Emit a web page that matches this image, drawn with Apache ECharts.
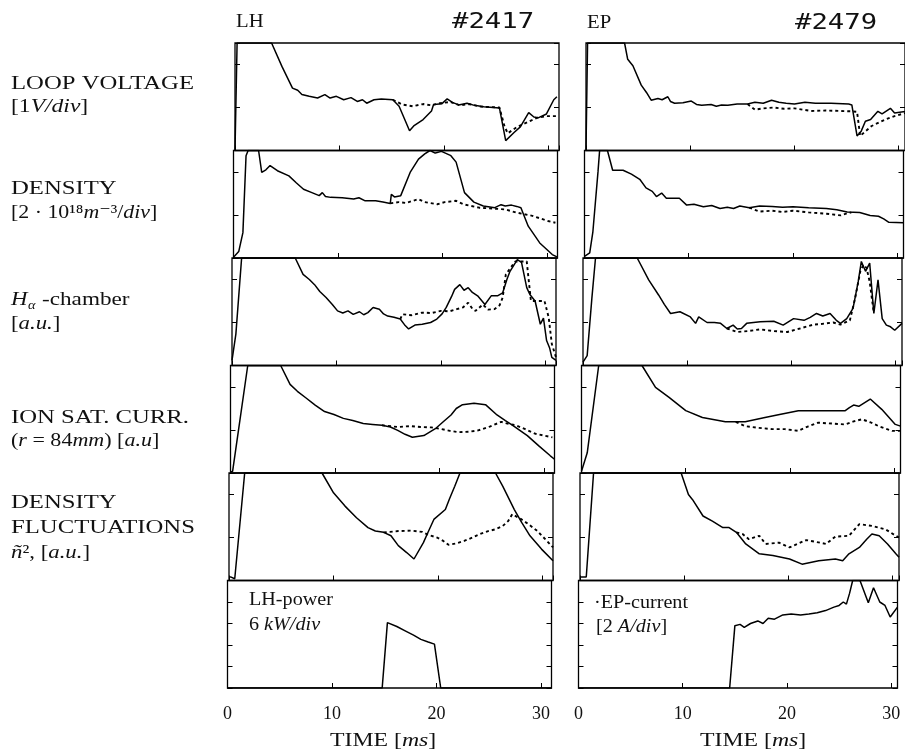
<!DOCTYPE html>
<html>
<head>
<meta charset="utf-8">
<script src="https://cdn.jsdelivr.net/npm/echarts@6/dist/echarts.min.js"></script>
<style>
  html, body { margin: 0; padding: 0; background: #fff; }
  #chart { width: 905px; height: 751px; }
</style>
</head>
<body>
<div id="chart"></div>
<script>
// time in ms, value in divisions (each panel is 2.5 div high, traces saturate at the top)

// ---- LH shot #2417 (left column) ----
var lhLoopSolid = [[0,0],[0.2,2.5],[3.5,2.5],[4.5,1.95],[5.5,1.45],[6.0,1.40],[6.4,1.30],[7.1,1.26],[7.9,1.22],[8.6,1.30],[9.1,1.22],[9.7,1.26],[10.4,1.18],[11.1,1.23],[11.7,1.14],[12.2,1.18],[12.6,1.10],[13.3,1.18],[14.0,1.20],[15.1,1.18],[15.7,1.03],[16.7,0.46],[17.1,0.57],[18.0,0.72],[18.8,0.92],[19.0,1.07],[19.8,1.09],[20.3,1.20],[20.8,1.12],[21.4,1.06],[22.2,1.10],[22.9,1.05],[23.8,1.02],[25.3,0.99],[25.9,0.23],[26.7,0.42],[27.3,0.55],[28.1,0.88],[28.6,0.78],[29.0,0.76],[29.8,0.85],[30.5,1.18],[30.8,1.25]];
var lhLoopDashed = [[15.1,1.18],[16.0,1.07],[17.0,1.03],[18.0,1.08],[18.8,1.05],[19.6,1.10],[20.6,1.13],[21.5,1.05],[22.4,1.08],[23.5,1.02],[25.3,1.00],[25.8,0.55],[26.1,0.40],[27.0,0.55],[28.0,0.66],[28.9,0.76],[29.8,0.80],[30.8,0.80]];

var lhDensSolid = [[0,0.02],[0.5,0.15],[0.9,0.59],[1.2,2.38],[1.4,2.5],[2.4,2.5],[2.7,1.99],[3.1,2.05],[3.5,2.15],[4.2,2.03],[5.3,1.91],[6.0,1.75],[6.7,1.60],[7.5,1.52],[8.2,1.45],[8.5,1.52],[8.8,1.43],[9.3,1.41],[10.4,1.40],[11.5,1.37],[12.0,1.40],[12.6,1.33],[13.6,1.33],[14.3,1.30],[15.0,1.27],[15.1,1.48],[15.4,1.42],[16.0,1.45],[16.9,1.99],[17.7,2.30],[18.3,2.42],[18.8,2.5],[19.3,2.44],[19.9,2.48],[20.8,2.38],[21.3,2.23],[22.1,1.52],[23.0,1.30],[23.9,1.21],[25.0,1.17],[25.6,1.24],[26.0,1.21],[26.6,1.23],[27.1,1.20],[27.5,1.17],[28.2,0.74],[29.3,0.35],[30.5,0.08],[31,0.02]];
var lhDensDashed = [[15.0,1.27],[15.8,1.30],[16.5,1.28],[17.7,1.37],[18.3,1.30],[19.5,1.25],[20.2,1.30],[21.3,1.33],[22.0,1.25],[23.5,1.17],[24.8,1.15],[26.0,1.13],[27.0,1.06],[28.6,0.98],[30.1,0.86],[30.8,0.82]];

var lhHaSolid = [[0,0.12],[0.37,0.73],[0.92,2.5],[6.05,2.5],[6.8,2.12],[7.4,2.0],[7.9,1.88],[8.4,1.72],[9.0,1.58],[9.6,1.42],[10.1,1.27],[10.6,1.22],[11.1,1.27],[11.6,1.19],[12.2,1.25],[12.6,1.18],[13.0,1.23],[13.5,1.35],[14.1,1.31],[14.5,1.20],[14.9,1.15],[15.5,1.12],[16.1,1.08],[16.5,0.95],[16.9,0.85],[17.5,0.94],[18.2,0.96],[19.0,1.0],[19.6,1.08],[20.1,1.20],[20.5,1.35],[21.0,1.60],[21.3,1.77],[21.8,1.88],[22.2,1.75],[22.6,1.81],[23.0,1.70],[23.5,1.62],[24.2,1.42],[24.8,1.62],[25.4,1.62],[25.9,1.69],[26.3,2.0],[26.6,2.19],[27.3,2.46],[27.7,2.40],[28.2,1.81],[28.5,1.65],[29.0,1.50],[29.5,0.96],[29.8,1.10],[30.1,0.58],[30.4,0.40],[30.6,0.19],[31,0.12]];
var lhHaDashed = [[16.1,1.08],[16.3,1.19],[17.2,1.17],[18.2,1.23],[19.1,1.22],[20.0,1.27],[20.8,1.26],[21.5,1.31],[22.1,1.35],[22.6,1.46],[23.0,1.32],[23.3,1.27],[24.0,1.42],[24.5,1.30],[25.1,1.31],[25.6,1.40],[25.9,1.58],[26.2,2.12],[27.1,2.42],[28.2,2.42],[28.6,1.5],[29.9,1.5],[30.3,1.12],[30.6,0.5],[31,0.19]];

var lhIonSolid = [[0,0.02],[0.2,0.04],[0.55,0.63],[1.65,2.5],[4.8,2.5],[5.7,2.06],[6.4,1.9],[7.2,1.75],[8.1,1.58],[9.0,1.43],[9.9,1.36],[10.8,1.27],[11.7,1.22],[12.7,1.15],[13.6,1.13],[14.5,1.11],[15.3,1.07],[16.0,0.99],[16.7,0.90],[17.4,0.83],[18.5,0.87],[19.6,1.03],[20.3,1.18],[21.1,1.35],[21.6,1.50],[22.2,1.59],[23.3,1.62],[24.4,1.59],[25.5,1.35],[26.3,1.22],[27.0,1.11],[28.4,0.87],[29.5,0.63],[30.6,0.4],[31,0.32]];
var lhIonDashed = [[14.5,1.11],[16.0,1.07],[17.2,1.09],[18.2,1.07],[19.2,1.06],[20.0,1.03],[21.0,0.98],[21.8,0.95],[22.8,0.96],[23.7,0.99],[24.8,1.08],[25.9,1.19],[26.5,1.15],[27.3,1.11],[28.2,1.02],[29.2,0.91],[30.0,0.87],[30.8,0.83]];

var lhFlucSolid = [[0,0.08],[0.2,0.08],[0.55,0.04],[1.5,2.5],[8.9,2.5],[10.0,2.04],[11.1,1.73],[12.2,1.46],[13.3,1.23],[14.0,1.15],[14.8,1.12],[15.5,1.04],[16.2,0.81],[17.0,0.65],[17.7,0.5],[18.6,0.88],[19.0,1.10],[19.6,1.42],[20.7,1.65],[21.1,1.90],[21.6,2.19],[22.1,2.5],[25.5,2.5],[26.2,2.19],[27.3,1.65],[28.0,1.35],[28.8,1.04],[29.9,0.73],[31,0.46]];
var lhFlucDashed = [[14.8,1.12],[15.4,1.13],[16.2,1.15],[17.4,1.16],[18.5,1.13],[19.2,1.05],[19.9,1.0],[20.5,0.92],[21.0,0.83],[21.7,0.86],[22.5,0.92],[23.3,1.0],[24.0,1.08],[24.8,1.15],[25.5,1.19],[26.2,1.27],[26.7,1.38],[27.1,1.54],[28.0,1.42],[28.7,1.30],[29.5,1.15],[30.3,0.95],[31,0.77]];

var lhPower = [[0,0],[14.8,0],[15.3,1.52],[16.2,1.43],[17.0,1.33],[17.8,1.23],[18.5,1.13],[19.2,1.07],[19.8,1.02],[20.4,0],[31,0]];

// ---- EP shot #2479 (right column) ----
var epLoopSolid = [[0,0],[0.15,2.5],[3.7,2.5],[4.0,2.12],[4.5,1.97],[5.3,1.52],[5.8,1.35],[6.25,1.17],[6.9,1.21],[7.3,1.18],[7.85,1.25],[8.1,1.14],[8.5,1.10],[9.3,1.11],[10.1,1.15],[10.6,1.07],[11.1,1.05],[12.0,1.07],[12.5,1.03],[13.0,1.06],[13.6,1.05],[14.5,1.08],[15.5,1.08],[16.2,1.12],[17.0,1.10],[17.8,1.17],[18.5,1.12],[19.2,1.10],[20.0,1.08],[21.0,1.12],[22.0,1.10],[23.5,1.10],[25.2,1.08],[25.5,1.06],[26.0,0.34],[26.4,0.45],[26.8,0.68],[27.3,0.72],[28.0,0.91],[28.4,0.85],[29.2,0.98],[29.6,0.87],[30.6,0.91]];
var epLoopDashed = [[15.5,1.08],[16.2,0.95],[17.0,0.98],[18.0,1.0],[19.0,0.97],[20.0,0.98],[21.6,0.92],[23.0,0.93],[24.3,0.92],[25.5,0.91],[26.0,0.90],[26.3,0.34],[27.4,0.57],[28.7,0.72],[29.6,0.80],[30.6,0.87]];

var epDensSolid = [[0,0.04],[0.5,0.12],[0.8,0.6],[1.3,2.02],[1.45,2.5],[2.2,2.5],[2.7,2.04],[3.7,2.04],[4.5,1.95],[5.3,1.83],[5.9,1.63],[6.5,1.55],[6.9,1.43],[7.4,1.51],[7.85,1.39],[9.1,1.39],[9.8,1.23],[10.5,1.25],[11.4,1.19],[12.2,1.22],[13.0,1.15],[13.7,1.18],[14.3,1.15],[14.9,1.21],[15.8,1.17],[16.8,1.21],[18.0,1.20],[19.0,1.18],[20.0,1.19],[21.5,1.17],[23.2,1.15],[24.2,1.12],[25.2,1.07],[26.4,1.06],[27.4,0.99],[28.2,0.97],[28.7,0.91],[29.2,0.83],[30.6,0.82]];
var epDensDashed = [[15.8,1.17],[16.8,1.08],[18.0,1.10],[19.0,1.07],[20.0,1.10],[21.5,1.06],[23.2,1.03],[24.6,0.99],[25.2,1.04],[25.6,1.06]];

var epHaSolid = [[0,0.08],[0.4,0.23],[0.85,1.56],[1.2,2.5],[5.2,2.5],[6.3,1.99],[7.25,1.64],[7.8,1.42],[8.4,1.21],[9.3,1.25],[10.3,1.13],[10.8,0.98],[11.1,1.13],[11.9,1.0],[12.6,1.0],[13.2,0.98],[13.8,0.86],[14.4,0.94],[14.8,0.85],[15.2,0.86],[15.7,0.98],[17.0,1.02],[18.3,1.03],[19.2,0.94],[20.2,1.09],[21.2,1.05],[21.8,1.12],[22.4,1.21],[23.0,1.15],[23.7,1.21],[24.3,1.05],[24.7,0.98],[25.3,1.09],[25.9,1.33],[26.4,1.95],[26.7,2.42],[27.1,2.19],[27.5,2.38],[27.9,1.21],[28.3,1.99],[28.7,1.09],[29.1,0.94],[29.5,0.90],[29.9,0.82],[30.6,0.98]];
var epHaDashed = [[13.8,0.86],[14.8,0.78],[15.8,0.80],[17.0,0.84],[18.3,0.80],[19.6,0.78],[20.8,0.86],[22.1,0.95],[23.0,0.97],[24.0,1.0],[24.7,0.95],[25.6,1.05],[26.1,1.56],[26.6,2.19],[26.9,2.34],[27.2,2.27],[27.5,1.95],[27.9,1.21]];

var epIonSolid = [[0,0.04],[0.55,0.47],[1.65,2.5],[5.8,2.5],[7.1,1.99],[8.4,1.76],[10.0,1.45],[11.6,1.29],[13.8,1.19],[15.7,1.19],[17.6,1.29],[19.0,1.36],[20.8,1.45],[23.0,1.45],[25.3,1.45],[25.7,1.52],[26.1,1.58],[26.6,1.55],[27.7,1.72],[28.8,1.48],[30.1,1.13],[30.6,1.09]];
var epIonDashed = [[14.8,1.19],[15.7,1.09],[17.0,1.05],[18.3,1.02],[19.5,1.02],[20.8,0.98],[21.7,1.08],[22.7,1.17],[24.0,1.15],[25.3,1.13],[26.1,1.20],[26.9,1.25],[27.7,1.18],[28.5,1.09],[29.8,0.98],[30.6,0.98]];

var epFlucSolid = [[0,0.08],[0.6,0.08],[1.3,2.5],[9.7,2.5],[10.4,2.0],[10.8,1.88],[11.8,1.5],[12.7,1.38],[13.7,1.23],[14.3,1.23],[15.0,1.12],[15.9,0.85],[17.2,0.62],[18.5,0.58],[20.1,0.5],[21.3,0.38],[22.9,0.46],[24.5,0.50],[25.2,0.46],[25.8,0.62],[26.8,0.77],[27.5,0.96],[28.0,1.08],[28.7,1.04],[29.5,0.85],[30.3,0.62],[30.6,0.54]];
var epFlucDashed = [[15.0,1.12],[15.6,1.08],[16.2,0.96],[17.2,1.04],[17.8,0.85],[19.1,0.88],[20.1,0.77],[21.7,0.94],[22.6,0.90],[23.6,0.85],[24.5,1.02],[25.8,1.04],[26.8,1.31],[28.0,1.27],[29.3,1.19],[30.3,1.04],[30.6,1.0]];

var epCurrent = [[0,0],[14.5,0],[15.0,1.45],[15.5,1.48],[15.9,1.41],[16.5,1.50],[17.2,1.56],[17.7,1.50],[18.2,1.62],[18.8,1.60],[19.6,1.70],[20.4,1.72],[21.3,1.70],[22.1,1.72],[22.9,1.75],[23.7,1.80],[24.5,1.88],[25.0,1.92],[25.4,2.0],[25.7,1.95],[26.0,2.2],[26.3,2.5],[27.0,2.5],[27.8,1.98],[28.3,2.33],[28.9,2.0],[29.4,1.92],[29.9,1.65],[30.6,1.88]];

var timeMax = [31, 30.6];   // axis runs a little past 30 ms
var timeInterval = 10;

var leftRows = [[lhLoopSolid, lhLoopDashed], [lhDensSolid, lhDensDashed], [lhHaSolid, lhHaDashed],
                [lhIonSolid, lhIonDashed], [lhFlucSolid, lhFlucDashed], [lhPower]];
var rightRows = [[epLoopSolid, epLoopDashed], [epDensSolid, epDensDashed], [epHaSolid, epHaDashed],
                 [epIonSolid, epIonDashed], [epFlucSolid, epFlucDashed], [epCurrent]];

var chart = echarts.init(document.getElementById('chart'));

var rowTop = 43, rowH = 107.5;
var colLeft = [227, 578], colWidth = [324, 319];
var skew = [8, 6.5, 5, 3.5, 2, 0.5]; // the scanned figure leans a little to the right at the top
var serif = '"Liberation Serif", "DejaVu Serif", serif';

var grids = [], xAxes = [], yAxes = [], series = [];

function addPanel(col, row, lines) {
  var gi = grids.length;
  var last = row === 5;
  grids.push({
    left: colLeft[col] + skew[row], top: rowTop + row * rowH,
    width: colWidth[col], height: rowH,
    show: true, borderColor: '#000', borderWidth: 1.3, backgroundColor: 'transparent'
  });
  xAxes.push({
    gridIndex: gi, type: 'value', min: 0, max: timeMax[col], interval: timeInterval,
    axisLine: { show: false },
    axisTick: { show: true, inside: true, length: 5, lineStyle: { color: '#000', width: 1 } },
    splitLine: { show: false },
    axisLabel: { show: last, showMaxLabel: false, margin: 17, color: '#111', fontSize: 18, fontFamily: serif }
  });
  ['left', 'right'].forEach(function (pos) {
    yAxes.push({
      gridIndex: gi, type: 'value', position: pos, min: 0, max: 2.5,
      interval: last ? 0.5 : 1,
      axisLine: { show: false },
      axisTick: { show: true, inside: true, length: 5, lineStyle: { color: '#000', width: 1 } },
      axisLabel: { show: false }, splitLine: { show: false }
    });
  });
  lines.forEach(function (d, k) {
    series.push({
      type: 'line', xAxisIndex: gi, yAxisIndex: yAxes.length - 2,
      data: d, showSymbol: false, silent: true, animation: false,
      lineStyle: k === 0 ? { color: '#000', width: 1.5 } : { color: '#000', width: 1.9, type: [3, 3] }
    });
  });
}

leftRows.forEach(function (lines, r) { addPanel(0, r, lines); });
rightRows.forEach(function (lines, r) { addPanel(1, r, lines); });

function richStyles(size) {
  return {
    n: { fontFamily: serif, fontSize: size, color: '#111' },
    i: { fontFamily: serif, fontSize: size, fontStyle: 'italic', color: '#111' }
  };
}

function label(x, y, text, size, sx) {
  return {
    type: 'text', x: x, y: y, scaleX: sx || 1.3, silent: true,
    style: {
      text: text, fill: '#111', font: size + 'px ' + serif,
      textVerticalAlign: 'middle', rich: richStyles(size)
    }
  };
}

var graphics = [
  // column headers
  label(236, 22, 'LH', 18, 1.15),
  label(587, 23, 'EP', 18, 1.15),
  { type: 'text', x: 452, y: 23, scaleX: 1.3, silent: true,
    style: { text: '#2417', fill: '#111', font: '21px "DejaVu Sans Mono", monospace', textVerticalAlign: 'middle' } },
  { type: 'text', x: 795, y: 24, scaleX: 1.3, silent: true,
    style: { text: '#2479', fill: '#111', font: '21px "DejaVu Sans Mono", monospace', textVerticalAlign: 'middle' } },

  // row descriptions
  label(11, 84, 'LOOP VOLTAGE', 19),
  label(11, 107, '{n|[1}{i|V/div}{n|]}', 19, 1.24),
  label(11, 189, 'DENSITY', 19),
  label(11, 213, '{n|[2 · 10¹⁸}{i|m}{n|⁻³/}{i|div}{n|]}', 19, 1.15),
  label(11, 300, '{i|H}', 19, 1.2),
  label(28, 306, '{i|α}', 13, 1.1),
  label(42, 300, '{n|-chamber}', 19, 1.22),
  label(11, 324, '{n|[}{i|a.u.}{n|]}', 19, 1.2),
  label(11, 418, 'ION SAT. CURR.', 19),
  label(11, 441, '{n|(}{i|r}{n| = 84}{i|mm}{n|) [}{i|a.u}{n|]}', 19, 1.16),
  label(11, 503, 'DENSITY', 19),
  label(11, 528, 'FLUCTUATIONS', 19),
  label(11, 553, '{i|ñ}{n|², [}{i|a.u.}{n|]}', 19, 1.2),

  // notes inside the bottom panels
  label(249, 600, '{n|LH-power}', 18, 1.12),
  label(249, 625, '{n|6 }{i|kW/div}', 18, 1.12),
  label(594, 603, '{n|·EP-current}', 18, 1.12),
  label(596, 627, '{n|[2 }{i|A/div}{n|]}', 18, 1.12),

  // time axis titles
  label(330, 741, '{n|TIME [}{i|ms}{n|]}', 19, 1.25),
  label(700, 741, '{n|TIME [}{i|ms}{n|]}', 19, 1.25)
];

chart.setOption({
  backgroundColor: '#fff',
  animation: false,
  grid: grids,
  xAxis: xAxes,
  yAxis: yAxes,
  series: series,
  graphic: graphics
});
</script>
</body>
</html>
